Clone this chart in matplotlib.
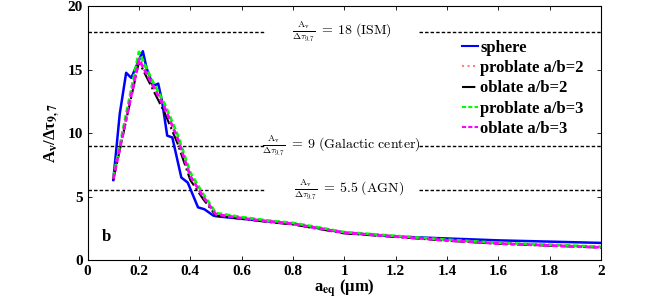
import matplotlib
matplotlib.use("Agg")
import matplotlib.pyplot as plt

# ---------------- data ----------------
x_sphere = [0.10, 0.125, 0.15, 0.17, 0.215, 0.23, 0.255, 0.275, 0.29, 0.31, 0.33, 0.365,
            0.39, 0.43, 0.455, 0.49, 0.5, 0.6, 0.8, 1.0, 1.2, 1.4, 1.6, 1.8, 2.0]
y_sphere = [6.3, 11.5, 14.75, 14.35, 16.45, 15.1, 13.7, 13.9, 12.5, 9.8, 9.65, 6.5,
            6.1, 4.15, 4.0, 3.5, 3.45, 3.25, 2.85, 2.15, 1.85, 1.7, 1.55, 1.45, 1.35]

x_shape = [0.10, 0.15, 0.20, 0.25, 0.30, 0.35, 0.40, 0.45, 0.50,
           0.6, 0.7, 0.8, 0.9, 1.0, 1.2, 1.4, 1.6, 1.8, 2.0]
y_prolate2 = [6.4, 11.2, 15.9, 14.0, 12.1, 9.7, 6.7, 5.0, 3.6,
              3.3, 3.05, 2.85, 2.5, 2.15, 1.85, 1.55, 1.3, 1.15, 1.0]
y_oblate2 = [6.3, 11.0, 15.6, 13.6, 11.6, 9.2, 6.3, 4.8, 3.5,
             3.25, 3.0, 2.8, 2.45, 2.1, 1.82, 1.52, 1.28, 1.13, 0.98]
y_prolate3 = [6.5, 11.5, 16.4, 14.2, 12.3, 9.9, 6.9, 5.2, 3.7,
              3.38, 3.12, 2.92, 2.57, 2.2, 1.9, 1.6, 1.35, 1.2, 1.05]
y_oblate3 = [6.4, 11.1, 15.8, 13.9, 12.0, 9.6, 6.6, 5.0, 3.6,
             3.3, 3.05, 2.85, 2.5, 2.15, 1.85, 1.55, 1.3, 1.15, 1.0]

series_labels = ["sphere", "problate a/b=2", "oblate a/b=2", "problate a/b=3", "oblate a/b=3"]

ref_levels = [18, 9, 5.5]
ref_names = ["ISM", "Galactic\\ center", "AGN"]
ref_values_txt = ["18", "9", "5.5"]
ref_text_x = [0.99, 0.99, 1.02]

x_ticks = [0, 0.2, 0.4, 0.6, 0.8, 1, 1.2, 1.4, 1.6, 1.8, 2]
x_ticklabels = ["0", "0.2", "0.4", "0.6", "0.8", "1", "1.2", "1.4", "1.6", "1.8", "2"]
y_ticks = [0, 5, 10, 15, 20]

# ---------------- plot ----------------
plt.rcParams['font.family'] = ['Liberation Serif', 'DejaVu Serif']
plt.rcParams['font.weight'] = 'bold'
plt.rcParams['mathtext.fontset'] = 'stix'

fig = plt.figure(figsize=(6.64, 3.07), dpi=100)
ax = fig.add_axes([0.132, 0.153, 0.773, 0.827])

# reference dashed lines, broken around the annotation text
for lvl, name, val, tx in zip(ref_levels, ref_names, ref_values_txt, ref_text_x):
    ax.plot([0, 0.69], [lvl, lvl], color='black', ls=(0, (2.5, 1.5)), lw=1.0)
    ax.plot([1.29, 2.0], [lvl, lvl], color='black', ls=(0, (2.5, 1.5)), lw=1.0)
    ax.text(tx, lvl,
            r'$\frac{\mathrm{A_v}}{\mathbf{\Delta}\tau_{9.7}}\;\mathbf{=\;%s}\;\mathrm{(%s)}$' % (val, name),
            ha='center', va='center', fontsize=10, math_fontfamily='cm')

ax.plot(x_sphere, y_sphere, color='#0000ff', lw=1.8, ls='-', label=series_labels[0])
ax.plot(x_shape, y_prolate2, color='#ff8080', lw=1.5, ls=':', label=series_labels[1])
ax.plot(x_shape, y_oblate2, color='black', lw=1.5, ls='-.', label=series_labels[2])
ax.plot(x_shape, y_prolate3, color='#00ff00', lw=2.0, ls='--', dashes=(2, 1), label=series_labels[3])
ax.plot(x_shape, y_oblate3, color='#ff00ff', lw=2.0, ls='--', dashes=(2, 1), label=series_labels[4])

ax.text(0.055, 1.8, 'b', fontsize=12, fontweight='bold', ha='left', va='center')

ax.set_xlim(0, 2)
ax.set_ylim(0, 20)
ax.set_xticks(x_ticks)
ax.set_xticklabels(x_ticklabels)
ax.set_yticks(y_ticks)
ax.tick_params(direction='in', top=True, right=True, labelsize=11, length=3, width=0.6)
for lab in ax.get_xticklabels() + ax.get_yticklabels():
    lab.set_fontweight('bold')
for sp in ax.spines.values():
    sp.set_linewidth(0.8)

ax.set_xlabel(r'a$_{\mathbf{eq}}$ (μm)', fontsize=12, fontweight='bold', labelpad=0)
ax.set_ylabel(r'A$_\mathregular{v}$/Δτ$_{\mathbf{9,7}}$', fontsize=12, fontweight='bold', labelpad=4)

leg = ax.legend(loc='upper left', bbox_to_anchor=(0.706, 0.912), frameon=False,
                prop={'family': 'Liberation Serif', 'weight': 'bold', 'size': 12},
                handlelength=1.0, handletextpad=0.1, labelspacing=0.25, borderpad=0.2)
for h in leg.get_lines():
    h.set_linewidth(1.5)

fig.savefig('out.png', dpi=100)
